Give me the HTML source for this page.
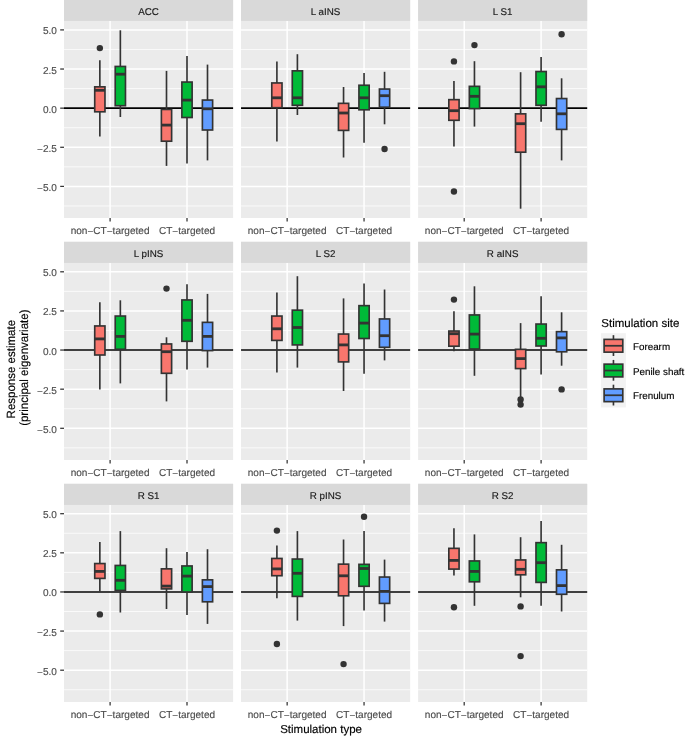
<!DOCTYPE html>
<html><head><meta charset="utf-8"><title>Boxplot facets</title>
<style>html,body{margin:0;padding:0;background:#fff;}body{width:685px;height:741px;overflow:hidden;}svg{display:block;font-family:"Liberation Sans", sans-serif;will-change:transform;text-rendering:geometricPrecision;}text{stroke-width:0.15px;paint-order:stroke;}</style>
</head><body>
<svg width="685" height="741" viewBox="0 0 685 741">
<rect x="0" y="0" width="685" height="741" fill="#ffffff"/>
<rect x="64" y="-0.2" width="169.1" height="218.2" fill="#EBEBEB"/>
<rect x="64" y="-0.2" width="169.1" height="21.1" fill="#D9D9D9"/>
<text x="148.55" y="14.9" font-size="9.8" fill="#1A1A1A" stroke="#1A1A1A" text-anchor="middle">ACC</text>
<g>
<line x1="64" x2="233.1" y1="205.96" y2="205.96" stroke="#fff" stroke-width="0.75"/>
<line x1="64" x2="233.1" y1="166.84" y2="166.84" stroke="#fff" stroke-width="0.75"/>
<line x1="64" x2="233.1" y1="127.71" y2="127.71" stroke="#fff" stroke-width="0.75"/>
<line x1="64" x2="233.1" y1="88.59" y2="88.59" stroke="#fff" stroke-width="0.75"/>
<line x1="64" x2="233.1" y1="49.46" y2="49.46" stroke="#fff" stroke-width="0.75"/>
<line x1="64" x2="233.1" y1="186.4" y2="186.4" stroke="#fff" stroke-width="1.45"/>
<line x1="64" x2="233.1" y1="147.28" y2="147.28" stroke="#fff" stroke-width="1.45"/>
<line x1="64" x2="233.1" y1="108.15" y2="108.15" stroke="#fff" stroke-width="1.45"/>
<line x1="64" x2="233.1" y1="69.03" y2="69.03" stroke="#fff" stroke-width="1.45"/>
<line x1="64" x2="233.1" y1="29.9" y2="29.9" stroke="#fff" stroke-width="1.45"/>
<line x1="110.1" x2="110.1" y1="20.9" y2="218" stroke="#fff" stroke-width="1.45"/>
<line x1="187" x2="187" y1="20.9" y2="218" stroke="#fff" stroke-width="1.45"/>
<line x1="64" x2="233.1" y1="108.15" y2="108.15" stroke="#000" stroke-width="1.6"/>
<line x1="99.85" x2="99.85" y1="60.2" y2="86.85" stroke="#333333" stroke-width="1.65"/>
<line x1="99.85" x2="99.85" y1="111.8" y2="136.6" stroke="#333333" stroke-width="1.65"/>
<rect x="94.72" y="86.85" width="10.25" height="24.95" fill="#F8766D" stroke="#333333" stroke-width="1.65"/>
<line x1="94.72" x2="104.97" y1="90.3" y2="90.3" stroke="#333333" stroke-width="2.8"/>
<circle cx="99.85" cy="48.1" r="3.2" fill="#333333"/>
<line x1="120.35" x2="120.35" y1="30.3" y2="66.45" stroke="#333333" stroke-width="1.65"/>
<line x1="120.35" x2="120.35" y1="105.7" y2="117" stroke="#333333" stroke-width="1.65"/>
<rect x="115.22" y="66.45" width="10.25" height="39.25" fill="#00BA38" stroke="#333333" stroke-width="1.65"/>
<line x1="115.22" x2="125.47" y1="74.2" y2="74.2" stroke="#333333" stroke-width="2.8"/>
<line x1="166.5" x2="166.5" y1="70.9" y2="109.45" stroke="#333333" stroke-width="1.65"/>
<line x1="166.5" x2="166.5" y1="141.2" y2="165.9" stroke="#333333" stroke-width="1.65"/>
<rect x="161.38" y="109.45" width="10.25" height="31.75" fill="#F8766D" stroke="#333333" stroke-width="1.65"/>
<line x1="161.38" x2="171.62" y1="125.1" y2="125.1" stroke="#333333" stroke-width="2.8"/>
<line x1="187" x2="187" y1="56.1" y2="82.05" stroke="#333333" stroke-width="1.65"/>
<line x1="187" x2="187" y1="117.5" y2="163.6" stroke="#333333" stroke-width="1.65"/>
<rect x="181.88" y="82.05" width="10.25" height="35.45" fill="#00BA38" stroke="#333333" stroke-width="1.65"/>
<line x1="181.88" x2="192.12" y1="100.1" y2="100.1" stroke="#333333" stroke-width="2.8"/>
<line x1="207.5" x2="207.5" y1="64.6" y2="100.05" stroke="#333333" stroke-width="1.65"/>
<line x1="207.5" x2="207.5" y1="130" y2="160.4" stroke="#333333" stroke-width="1.65"/>
<rect x="202.38" y="100.05" width="10.25" height="29.95" fill="#619CFF" stroke="#333333" stroke-width="1.65"/>
<line x1="202.38" x2="212.62" y1="108.8" y2="108.8" stroke="#333333" stroke-width="2.8"/>
</g>
<line x1="110.1" x2="110.1" y1="218" y2="221.6" stroke="#333333" stroke-width="1.25"/>
<text x="110.1" y="233.7" font-size="10.05" fill="#4D4D4D" stroke="#4D4D4D" text-anchor="middle">non<tspan dy="0.85">−</tspan><tspan dy="-0.85">CT</tspan><tspan dy="0.85">−</tspan><tspan dy="-0.85">targeted</tspan></text>
<line x1="187" x2="187" y1="218" y2="221.6" stroke="#333333" stroke-width="1.25"/>
<text x="187" y="233.7" font-size="10.05" fill="#4D4D4D" stroke="#4D4D4D" text-anchor="middle">CT<tspan dy="0.85">−</tspan><tspan dy="-0.85">targeted</tspan></text>
<line x1="60.2" x2="64" y1="29.9" y2="29.9" stroke="#333333" stroke-width="1.25"/>
<text x="56.9" y="34.4" font-size="10.05" fill="#4D4D4D" stroke="#4D4D4D" text-anchor="end">5.0</text>
<line x1="60.2" x2="64" y1="69.03" y2="69.03" stroke="#333333" stroke-width="1.25"/>
<text x="56.9" y="73.53" font-size="10.05" fill="#4D4D4D" stroke="#4D4D4D" text-anchor="end">2.5</text>
<line x1="60.2" x2="64" y1="108.15" y2="108.15" stroke="#333333" stroke-width="1.25"/>
<text x="56.9" y="112.65" font-size="10.05" fill="#4D4D4D" stroke="#4D4D4D" text-anchor="end">0.0</text>
<line x1="60.2" x2="64" y1="147.28" y2="147.28" stroke="#333333" stroke-width="1.25"/>
<text x="56.9" y="151.78" font-size="10.05" fill="#4D4D4D" stroke="#4D4D4D" text-anchor="end"><tspan dy="0.85">−</tspan><tspan dy="-0.85">2.5</tspan></text>
<line x1="60.2" x2="64" y1="186.4" y2="186.4" stroke="#333333" stroke-width="1.25"/>
<text x="56.9" y="190.9" font-size="10.05" fill="#4D4D4D" stroke="#4D4D4D" text-anchor="end"><tspan dy="0.85">−</tspan><tspan dy="-0.85">5.0</tspan></text>
<rect x="241.05" y="-0.2" width="169.1" height="218.2" fill="#EBEBEB"/>
<rect x="241.05" y="-0.2" width="169.1" height="21.1" fill="#D9D9D9"/>
<text x="325.6" y="14.9" font-size="9.8" fill="#1A1A1A" stroke="#1A1A1A" text-anchor="middle">L aINS</text>
<g>
<line x1="241.05" x2="410.15" y1="205.96" y2="205.96" stroke="#fff" stroke-width="0.75"/>
<line x1="241.05" x2="410.15" y1="166.84" y2="166.84" stroke="#fff" stroke-width="0.75"/>
<line x1="241.05" x2="410.15" y1="127.71" y2="127.71" stroke="#fff" stroke-width="0.75"/>
<line x1="241.05" x2="410.15" y1="88.59" y2="88.59" stroke="#fff" stroke-width="0.75"/>
<line x1="241.05" x2="410.15" y1="49.46" y2="49.46" stroke="#fff" stroke-width="0.75"/>
<line x1="241.05" x2="410.15" y1="186.4" y2="186.4" stroke="#fff" stroke-width="1.45"/>
<line x1="241.05" x2="410.15" y1="147.28" y2="147.28" stroke="#fff" stroke-width="1.45"/>
<line x1="241.05" x2="410.15" y1="108.15" y2="108.15" stroke="#fff" stroke-width="1.45"/>
<line x1="241.05" x2="410.15" y1="69.03" y2="69.03" stroke="#fff" stroke-width="1.45"/>
<line x1="241.05" x2="410.15" y1="29.9" y2="29.9" stroke="#fff" stroke-width="1.45"/>
<line x1="287.15" x2="287.15" y1="20.9" y2="218" stroke="#fff" stroke-width="1.45"/>
<line x1="364.05" x2="364.05" y1="20.9" y2="218" stroke="#fff" stroke-width="1.45"/>
<line x1="241.05" x2="410.15" y1="108.15" y2="108.15" stroke="#000" stroke-width="1.6"/>
<line x1="276.9" x2="276.9" y1="61.4" y2="82.95" stroke="#333333" stroke-width="1.65"/>
<line x1="276.9" x2="276.9" y1="107.7" y2="141.4" stroke="#333333" stroke-width="1.65"/>
<rect x="271.77" y="82.95" width="10.25" height="24.75" fill="#F8766D" stroke="#333333" stroke-width="1.65"/>
<line x1="271.77" x2="282.02" y1="97.8" y2="97.8" stroke="#333333" stroke-width="2.8"/>
<line x1="297.4" x2="297.4" y1="54.2" y2="70.85" stroke="#333333" stroke-width="1.65"/>
<line x1="297.4" x2="297.4" y1="105.3" y2="115" stroke="#333333" stroke-width="1.65"/>
<rect x="292.27" y="70.85" width="10.25" height="34.45" fill="#00BA38" stroke="#333333" stroke-width="1.65"/>
<line x1="292.27" x2="302.52" y1="97.8" y2="97.8" stroke="#333333" stroke-width="2.8"/>
<line x1="343.55" x2="343.55" y1="87" y2="103.35" stroke="#333333" stroke-width="1.65"/>
<line x1="343.55" x2="343.55" y1="130.4" y2="157.5" stroke="#333333" stroke-width="1.65"/>
<rect x="338.43" y="103.35" width="10.25" height="27.05" fill="#F8766D" stroke="#333333" stroke-width="1.65"/>
<line x1="338.43" x2="348.68" y1="113" y2="113" stroke="#333333" stroke-width="2.8"/>
<line x1="364.05" x2="364.05" y1="73.1" y2="85.25" stroke="#333333" stroke-width="1.65"/>
<line x1="364.05" x2="364.05" y1="109.8" y2="142.7" stroke="#333333" stroke-width="1.65"/>
<rect x="358.93" y="85.25" width="10.25" height="24.55" fill="#00BA38" stroke="#333333" stroke-width="1.65"/>
<line x1="358.93" x2="369.18" y1="97.8" y2="97.8" stroke="#333333" stroke-width="2.8"/>
<line x1="384.55" x2="384.55" y1="71.8" y2="89.05" stroke="#333333" stroke-width="1.65"/>
<line x1="384.55" x2="384.55" y1="107.2" y2="124.3" stroke="#333333" stroke-width="1.65"/>
<rect x="379.43" y="89.05" width="10.25" height="18.15" fill="#619CFF" stroke="#333333" stroke-width="1.65"/>
<line x1="379.43" x2="389.68" y1="95.7" y2="95.7" stroke="#333333" stroke-width="2.8"/>
<circle cx="384.55" cy="149" r="3.2" fill="#333333"/>
</g>
<line x1="287.15" x2="287.15" y1="218" y2="221.6" stroke="#333333" stroke-width="1.25"/>
<text x="287.15" y="233.7" font-size="10.05" fill="#4D4D4D" stroke="#4D4D4D" text-anchor="middle">non<tspan dy="0.85">−</tspan><tspan dy="-0.85">CT</tspan><tspan dy="0.85">−</tspan><tspan dy="-0.85">targeted</tspan></text>
<line x1="364.05" x2="364.05" y1="218" y2="221.6" stroke="#333333" stroke-width="1.25"/>
<text x="364.05" y="233.7" font-size="10.05" fill="#4D4D4D" stroke="#4D4D4D" text-anchor="middle">CT<tspan dy="0.85">−</tspan><tspan dy="-0.85">targeted</tspan></text>
<rect x="418.1" y="-0.2" width="169.1" height="218.2" fill="#EBEBEB"/>
<rect x="418.1" y="-0.2" width="169.1" height="21.1" fill="#D9D9D9"/>
<text x="502.65" y="14.9" font-size="9.8" fill="#1A1A1A" stroke="#1A1A1A" text-anchor="middle">L S1</text>
<g>
<line x1="418.1" x2="587.2" y1="205.96" y2="205.96" stroke="#fff" stroke-width="0.75"/>
<line x1="418.1" x2="587.2" y1="166.84" y2="166.84" stroke="#fff" stroke-width="0.75"/>
<line x1="418.1" x2="587.2" y1="127.71" y2="127.71" stroke="#fff" stroke-width="0.75"/>
<line x1="418.1" x2="587.2" y1="88.59" y2="88.59" stroke="#fff" stroke-width="0.75"/>
<line x1="418.1" x2="587.2" y1="49.46" y2="49.46" stroke="#fff" stroke-width="0.75"/>
<line x1="418.1" x2="587.2" y1="186.4" y2="186.4" stroke="#fff" stroke-width="1.45"/>
<line x1="418.1" x2="587.2" y1="147.28" y2="147.28" stroke="#fff" stroke-width="1.45"/>
<line x1="418.1" x2="587.2" y1="108.15" y2="108.15" stroke="#fff" stroke-width="1.45"/>
<line x1="418.1" x2="587.2" y1="69.03" y2="69.03" stroke="#fff" stroke-width="1.45"/>
<line x1="418.1" x2="587.2" y1="29.9" y2="29.9" stroke="#fff" stroke-width="1.45"/>
<line x1="464.2" x2="464.2" y1="20.9" y2="218" stroke="#fff" stroke-width="1.45"/>
<line x1="541.1" x2="541.1" y1="20.9" y2="218" stroke="#fff" stroke-width="1.45"/>
<line x1="418.1" x2="587.2" y1="108.15" y2="108.15" stroke="#000" stroke-width="1.6"/>
<line x1="453.95" x2="453.95" y1="81.1" y2="99.65" stroke="#333333" stroke-width="1.65"/>
<line x1="453.95" x2="453.95" y1="120.3" y2="146.5" stroke="#333333" stroke-width="1.65"/>
<rect x="448.83" y="99.65" width="10.25" height="20.65" fill="#F8766D" stroke="#333333" stroke-width="1.65"/>
<line x1="448.83" x2="459.08" y1="110.7" y2="110.7" stroke="#333333" stroke-width="2.8"/>
<circle cx="453.95" cy="61.4" r="3.2" fill="#333333"/>
<circle cx="453.95" cy="191.5" r="3.2" fill="#333333"/>
<line x1="474.45" x2="474.45" y1="61.2" y2="86.35" stroke="#333333" stroke-width="1.65"/>
<line x1="474.45" x2="474.45" y1="108.6" y2="126.6" stroke="#333333" stroke-width="1.65"/>
<rect x="469.33" y="86.35" width="10.25" height="22.25" fill="#00BA38" stroke="#333333" stroke-width="1.65"/>
<line x1="469.33" x2="479.58" y1="96.3" y2="96.3" stroke="#333333" stroke-width="2.8"/>
<circle cx="474.45" cy="45.1" r="3.2" fill="#333333"/>
<line x1="520.6" x2="520.6" y1="72.2" y2="113.85" stroke="#333333" stroke-width="1.65"/>
<line x1="520.6" x2="520.6" y1="152.2" y2="208.7" stroke="#333333" stroke-width="1.65"/>
<rect x="515.48" y="113.85" width="10.25" height="38.35" fill="#F8766D" stroke="#333333" stroke-width="1.65"/>
<line x1="515.48" x2="525.73" y1="123.7" y2="123.7" stroke="#333333" stroke-width="2.8"/>
<line x1="541.1" x2="541.1" y1="57" y2="71.55" stroke="#333333" stroke-width="1.65"/>
<line x1="541.1" x2="541.1" y1="105.3" y2="121.8" stroke="#333333" stroke-width="1.65"/>
<rect x="535.98" y="71.55" width="10.25" height="33.75" fill="#00BA38" stroke="#333333" stroke-width="1.65"/>
<line x1="535.98" x2="546.23" y1="86.8" y2="86.8" stroke="#333333" stroke-width="2.8"/>
<line x1="561.6" x2="561.6" y1="78.3" y2="98.55" stroke="#333333" stroke-width="1.65"/>
<line x1="561.6" x2="561.6" y1="129.4" y2="160.4" stroke="#333333" stroke-width="1.65"/>
<rect x="556.48" y="98.55" width="10.25" height="30.85" fill="#619CFF" stroke="#333333" stroke-width="1.65"/>
<line x1="556.48" x2="566.73" y1="113.8" y2="113.8" stroke="#333333" stroke-width="2.8"/>
<circle cx="561.6" cy="34.2" r="3.2" fill="#333333"/>
</g>
<line x1="464.2" x2="464.2" y1="218" y2="221.6" stroke="#333333" stroke-width="1.25"/>
<text x="464.2" y="233.7" font-size="10.05" fill="#4D4D4D" stroke="#4D4D4D" text-anchor="middle">non<tspan dy="0.85">−</tspan><tspan dy="-0.85">CT</tspan><tspan dy="0.85">−</tspan><tspan dy="-0.85">targeted</tspan></text>
<line x1="541.1" x2="541.1" y1="218" y2="221.6" stroke="#333333" stroke-width="1.25"/>
<text x="541.1" y="233.7" font-size="10.05" fill="#4D4D4D" stroke="#4D4D4D" text-anchor="middle">CT<tspan dy="0.85">−</tspan><tspan dy="-0.85">targeted</tspan></text>
<rect x="64" y="241.8" width="169.1" height="218.2" fill="#EBEBEB"/>
<rect x="64" y="241.8" width="169.1" height="21.1" fill="#D9D9D9"/>
<text x="148.55" y="256.9" font-size="9.8" fill="#1A1A1A" stroke="#1A1A1A" text-anchor="middle">L pINS</text>
<g>
<line x1="64" x2="233.1" y1="447.86" y2="447.86" stroke="#fff" stroke-width="0.75"/>
<line x1="64" x2="233.1" y1="408.74" y2="408.74" stroke="#fff" stroke-width="0.75"/>
<line x1="64" x2="233.1" y1="369.61" y2="369.61" stroke="#fff" stroke-width="0.75"/>
<line x1="64" x2="233.1" y1="330.49" y2="330.49" stroke="#fff" stroke-width="0.75"/>
<line x1="64" x2="233.1" y1="291.36" y2="291.36" stroke="#fff" stroke-width="0.75"/>
<line x1="64" x2="233.1" y1="428.3" y2="428.3" stroke="#fff" stroke-width="1.45"/>
<line x1="64" x2="233.1" y1="389.18" y2="389.18" stroke="#fff" stroke-width="1.45"/>
<line x1="64" x2="233.1" y1="350.05" y2="350.05" stroke="#fff" stroke-width="1.45"/>
<line x1="64" x2="233.1" y1="310.93" y2="310.93" stroke="#fff" stroke-width="1.45"/>
<line x1="64" x2="233.1" y1="271.8" y2="271.8" stroke="#fff" stroke-width="1.45"/>
<line x1="110.1" x2="110.1" y1="262.9" y2="460" stroke="#fff" stroke-width="1.45"/>
<line x1="187" x2="187" y1="262.9" y2="460" stroke="#fff" stroke-width="1.45"/>
<line x1="64" x2="233.1" y1="350.05" y2="350.05" stroke="#000" stroke-width="1.6"/>
<line x1="99.85" x2="99.85" y1="302.2" y2="325.95" stroke="#333333" stroke-width="1.65"/>
<line x1="99.85" x2="99.85" y1="355" y2="389.4" stroke="#333333" stroke-width="1.65"/>
<rect x="94.72" y="325.95" width="10.25" height="29.05" fill="#F8766D" stroke="#333333" stroke-width="1.65"/>
<line x1="94.72" x2="104.97" y1="338.9" y2="338.9" stroke="#333333" stroke-width="2.8"/>
<line x1="120.35" x2="120.35" y1="300.3" y2="316.05" stroke="#333333" stroke-width="1.65"/>
<line x1="120.35" x2="120.35" y1="349.3" y2="383.4" stroke="#333333" stroke-width="1.65"/>
<rect x="115.22" y="316.05" width="10.25" height="33.25" fill="#00BA38" stroke="#333333" stroke-width="1.65"/>
<line x1="115.22" x2="125.47" y1="336.4" y2="336.4" stroke="#333333" stroke-width="2.8"/>
<line x1="166.5" x2="166.5" y1="337.3" y2="343.95" stroke="#333333" stroke-width="1.65"/>
<line x1="166.5" x2="166.5" y1="373.3" y2="401.4" stroke="#333333" stroke-width="1.65"/>
<rect x="161.38" y="343.95" width="10.25" height="29.35" fill="#F8766D" stroke="#333333" stroke-width="1.65"/>
<line x1="161.38" x2="171.62" y1="351.7" y2="351.7" stroke="#333333" stroke-width="2.8"/>
<circle cx="166.5" cy="288.6" r="3.2" fill="#333333"/>
<line x1="187" x2="187" y1="284.2" y2="299.95" stroke="#333333" stroke-width="1.65"/>
<line x1="187" x2="187" y1="341.3" y2="369.5" stroke="#333333" stroke-width="1.65"/>
<rect x="181.88" y="299.95" width="10.25" height="41.35" fill="#00BA38" stroke="#333333" stroke-width="1.65"/>
<line x1="181.88" x2="192.12" y1="320.3" y2="320.3" stroke="#333333" stroke-width="2.8"/>
<line x1="207.5" x2="207.5" y1="293.9" y2="322.35" stroke="#333333" stroke-width="1.65"/>
<line x1="207.5" x2="207.5" y1="350.6" y2="367.6" stroke="#333333" stroke-width="1.65"/>
<rect x="202.38" y="322.35" width="10.25" height="28.25" fill="#619CFF" stroke="#333333" stroke-width="1.65"/>
<line x1="202.38" x2="212.62" y1="336.4" y2="336.4" stroke="#333333" stroke-width="2.8"/>
</g>
<line x1="110.1" x2="110.1" y1="460" y2="463.6" stroke="#333333" stroke-width="1.25"/>
<text x="110.1" y="475.7" font-size="10.05" fill="#4D4D4D" stroke="#4D4D4D" text-anchor="middle">non<tspan dy="0.85">−</tspan><tspan dy="-0.85">CT</tspan><tspan dy="0.85">−</tspan><tspan dy="-0.85">targeted</tspan></text>
<line x1="187" x2="187" y1="460" y2="463.6" stroke="#333333" stroke-width="1.25"/>
<text x="187" y="475.7" font-size="10.05" fill="#4D4D4D" stroke="#4D4D4D" text-anchor="middle">CT<tspan dy="0.85">−</tspan><tspan dy="-0.85">targeted</tspan></text>
<line x1="60.2" x2="64" y1="271.8" y2="271.8" stroke="#333333" stroke-width="1.25"/>
<text x="56.9" y="276.3" font-size="10.05" fill="#4D4D4D" stroke="#4D4D4D" text-anchor="end">5.0</text>
<line x1="60.2" x2="64" y1="310.93" y2="310.93" stroke="#333333" stroke-width="1.25"/>
<text x="56.9" y="315.43" font-size="10.05" fill="#4D4D4D" stroke="#4D4D4D" text-anchor="end">2.5</text>
<line x1="60.2" x2="64" y1="350.05" y2="350.05" stroke="#333333" stroke-width="1.25"/>
<text x="56.9" y="354.55" font-size="10.05" fill="#4D4D4D" stroke="#4D4D4D" text-anchor="end">0.0</text>
<line x1="60.2" x2="64" y1="389.18" y2="389.18" stroke="#333333" stroke-width="1.25"/>
<text x="56.9" y="393.68" font-size="10.05" fill="#4D4D4D" stroke="#4D4D4D" text-anchor="end"><tspan dy="0.85">−</tspan><tspan dy="-0.85">2.5</tspan></text>
<line x1="60.2" x2="64" y1="428.3" y2="428.3" stroke="#333333" stroke-width="1.25"/>
<text x="56.9" y="432.8" font-size="10.05" fill="#4D4D4D" stroke="#4D4D4D" text-anchor="end"><tspan dy="0.85">−</tspan><tspan dy="-0.85">5.0</tspan></text>
<rect x="241.05" y="241.8" width="169.1" height="218.2" fill="#EBEBEB"/>
<rect x="241.05" y="241.8" width="169.1" height="21.1" fill="#D9D9D9"/>
<text x="325.6" y="256.9" font-size="9.8" fill="#1A1A1A" stroke="#1A1A1A" text-anchor="middle">L S2</text>
<g>
<line x1="241.05" x2="410.15" y1="447.86" y2="447.86" stroke="#fff" stroke-width="0.75"/>
<line x1="241.05" x2="410.15" y1="408.74" y2="408.74" stroke="#fff" stroke-width="0.75"/>
<line x1="241.05" x2="410.15" y1="369.61" y2="369.61" stroke="#fff" stroke-width="0.75"/>
<line x1="241.05" x2="410.15" y1="330.49" y2="330.49" stroke="#fff" stroke-width="0.75"/>
<line x1="241.05" x2="410.15" y1="291.36" y2="291.36" stroke="#fff" stroke-width="0.75"/>
<line x1="241.05" x2="410.15" y1="428.3" y2="428.3" stroke="#fff" stroke-width="1.45"/>
<line x1="241.05" x2="410.15" y1="389.18" y2="389.18" stroke="#fff" stroke-width="1.45"/>
<line x1="241.05" x2="410.15" y1="350.05" y2="350.05" stroke="#fff" stroke-width="1.45"/>
<line x1="241.05" x2="410.15" y1="310.93" y2="310.93" stroke="#fff" stroke-width="1.45"/>
<line x1="241.05" x2="410.15" y1="271.8" y2="271.8" stroke="#fff" stroke-width="1.45"/>
<line x1="287.15" x2="287.15" y1="262.9" y2="460" stroke="#fff" stroke-width="1.45"/>
<line x1="364.05" x2="364.05" y1="262.9" y2="460" stroke="#fff" stroke-width="1.45"/>
<line x1="241.05" x2="410.15" y1="350.05" y2="350.05" stroke="#000" stroke-width="1.6"/>
<line x1="276.9" x2="276.9" y1="292.4" y2="316.05" stroke="#333333" stroke-width="1.65"/>
<line x1="276.9" x2="276.9" y1="340.4" y2="372.4" stroke="#333333" stroke-width="1.65"/>
<rect x="271.77" y="316.05" width="10.25" height="24.35" fill="#F8766D" stroke="#333333" stroke-width="1.65"/>
<line x1="271.77" x2="282.02" y1="328.8" y2="328.8" stroke="#333333" stroke-width="2.8"/>
<line x1="297.4" x2="297.4" y1="276.2" y2="310.15" stroke="#333333" stroke-width="1.65"/>
<line x1="297.4" x2="297.4" y1="344.9" y2="367.6" stroke="#333333" stroke-width="1.65"/>
<rect x="292.27" y="310.15" width="10.25" height="34.75" fill="#00BA38" stroke="#333333" stroke-width="1.65"/>
<line x1="292.27" x2="302.52" y1="327.5" y2="327.5" stroke="#333333" stroke-width="2.8"/>
<line x1="343.55" x2="343.55" y1="298.4" y2="334.05" stroke="#333333" stroke-width="1.65"/>
<line x1="343.55" x2="343.55" y1="361.9" y2="391" stroke="#333333" stroke-width="1.65"/>
<rect x="338.43" y="334.05" width="10.25" height="27.85" fill="#F8766D" stroke="#333333" stroke-width="1.65"/>
<line x1="338.43" x2="348.68" y1="344.9" y2="344.9" stroke="#333333" stroke-width="2.8"/>
<line x1="364.05" x2="364.05" y1="283.4" y2="305.65" stroke="#333333" stroke-width="1.65"/>
<line x1="364.05" x2="364.05" y1="338.5" y2="373.7" stroke="#333333" stroke-width="1.65"/>
<rect x="358.93" y="305.65" width="10.25" height="32.85" fill="#00BA38" stroke="#333333" stroke-width="1.65"/>
<line x1="358.93" x2="369.18" y1="323.1" y2="323.1" stroke="#333333" stroke-width="2.8"/>
<line x1="384.55" x2="384.55" y1="289.5" y2="318.95" stroke="#333333" stroke-width="1.65"/>
<line x1="384.55" x2="384.55" y1="347.3" y2="360.4" stroke="#333333" stroke-width="1.65"/>
<rect x="379.43" y="318.95" width="10.25" height="28.35" fill="#619CFF" stroke="#333333" stroke-width="1.65"/>
<line x1="379.43" x2="389.68" y1="335.7" y2="335.7" stroke="#333333" stroke-width="2.8"/>
</g>
<line x1="287.15" x2="287.15" y1="460" y2="463.6" stroke="#333333" stroke-width="1.25"/>
<text x="287.15" y="475.7" font-size="10.05" fill="#4D4D4D" stroke="#4D4D4D" text-anchor="middle">non<tspan dy="0.85">−</tspan><tspan dy="-0.85">CT</tspan><tspan dy="0.85">−</tspan><tspan dy="-0.85">targeted</tspan></text>
<line x1="364.05" x2="364.05" y1="460" y2="463.6" stroke="#333333" stroke-width="1.25"/>
<text x="364.05" y="475.7" font-size="10.05" fill="#4D4D4D" stroke="#4D4D4D" text-anchor="middle">CT<tspan dy="0.85">−</tspan><tspan dy="-0.85">targeted</tspan></text>
<rect x="418.1" y="241.8" width="169.1" height="218.2" fill="#EBEBEB"/>
<rect x="418.1" y="241.8" width="169.1" height="21.1" fill="#D9D9D9"/>
<text x="502.65" y="256.9" font-size="9.8" fill="#1A1A1A" stroke="#1A1A1A" text-anchor="middle">R aINS</text>
<g>
<line x1="418.1" x2="587.2" y1="447.86" y2="447.86" stroke="#fff" stroke-width="0.75"/>
<line x1="418.1" x2="587.2" y1="408.74" y2="408.74" stroke="#fff" stroke-width="0.75"/>
<line x1="418.1" x2="587.2" y1="369.61" y2="369.61" stroke="#fff" stroke-width="0.75"/>
<line x1="418.1" x2="587.2" y1="330.49" y2="330.49" stroke="#fff" stroke-width="0.75"/>
<line x1="418.1" x2="587.2" y1="291.36" y2="291.36" stroke="#fff" stroke-width="0.75"/>
<line x1="418.1" x2="587.2" y1="428.3" y2="428.3" stroke="#fff" stroke-width="1.45"/>
<line x1="418.1" x2="587.2" y1="389.18" y2="389.18" stroke="#fff" stroke-width="1.45"/>
<line x1="418.1" x2="587.2" y1="350.05" y2="350.05" stroke="#fff" stroke-width="1.45"/>
<line x1="418.1" x2="587.2" y1="310.93" y2="310.93" stroke="#fff" stroke-width="1.45"/>
<line x1="418.1" x2="587.2" y1="271.8" y2="271.8" stroke="#fff" stroke-width="1.45"/>
<line x1="464.2" x2="464.2" y1="262.9" y2="460" stroke="#fff" stroke-width="1.45"/>
<line x1="541.1" x2="541.1" y1="262.9" y2="460" stroke="#fff" stroke-width="1.45"/>
<line x1="418.1" x2="587.2" y1="350.05" y2="350.05" stroke="#000" stroke-width="1.6"/>
<line x1="453.95" x2="453.95" y1="311.3" y2="331.05" stroke="#333333" stroke-width="1.65"/>
<line x1="453.95" x2="453.95" y1="346.2" y2="351.3" stroke="#333333" stroke-width="1.65"/>
<rect x="448.83" y="331.05" width="10.25" height="15.15" fill="#F8766D" stroke="#333333" stroke-width="1.65"/>
<line x1="448.83" x2="459.08" y1="333.7" y2="333.7" stroke="#333333" stroke-width="2.8"/>
<circle cx="453.95" cy="299.6" r="3.2" fill="#333333"/>
<line x1="474.45" x2="474.45" y1="286.3" y2="314.95" stroke="#333333" stroke-width="1.65"/>
<line x1="474.45" x2="474.45" y1="349" y2="375.8" stroke="#333333" stroke-width="1.65"/>
<rect x="469.33" y="314.95" width="10.25" height="34.05" fill="#00BA38" stroke="#333333" stroke-width="1.65"/>
<line x1="469.33" x2="479.58" y1="334.1" y2="334.1" stroke="#333333" stroke-width="2.8"/>
<line x1="520.6" x2="520.6" y1="323.1" y2="349.35" stroke="#333333" stroke-width="1.65"/>
<line x1="520.6" x2="520.6" y1="368.6" y2="397" stroke="#333333" stroke-width="1.65"/>
<rect x="515.48" y="349.35" width="10.25" height="19.25" fill="#F8766D" stroke="#333333" stroke-width="1.65"/>
<line x1="515.48" x2="525.73" y1="358.6" y2="358.6" stroke="#333333" stroke-width="2.8"/>
<circle cx="520.6" cy="399.5" r="3.2" fill="#333333"/>
<circle cx="520.6" cy="404.6" r="3.2" fill="#333333"/>
<line x1="541.1" x2="541.1" y1="296.2" y2="324.05" stroke="#333333" stroke-width="1.65"/>
<line x1="541.1" x2="541.1" y1="346" y2="374.6" stroke="#333333" stroke-width="1.65"/>
<rect x="535.98" y="324.05" width="10.25" height="21.95" fill="#00BA38" stroke="#333333" stroke-width="1.65"/>
<line x1="535.98" x2="546.23" y1="338.3" y2="338.3" stroke="#333333" stroke-width="2.8"/>
<line x1="561.6" x2="561.6" y1="312.3" y2="331.65" stroke="#333333" stroke-width="1.65"/>
<line x1="561.6" x2="561.6" y1="351.8" y2="365.7" stroke="#333333" stroke-width="1.65"/>
<rect x="556.48" y="331.65" width="10.25" height="20.15" fill="#619CFF" stroke="#333333" stroke-width="1.65"/>
<line x1="556.48" x2="566.73" y1="337.9" y2="337.9" stroke="#333333" stroke-width="2.8"/>
<circle cx="561.6" cy="389.4" r="3.2" fill="#333333"/>
</g>
<line x1="464.2" x2="464.2" y1="460" y2="463.6" stroke="#333333" stroke-width="1.25"/>
<text x="464.2" y="475.7" font-size="10.05" fill="#4D4D4D" stroke="#4D4D4D" text-anchor="middle">non<tspan dy="0.85">−</tspan><tspan dy="-0.85">CT</tspan><tspan dy="0.85">−</tspan><tspan dy="-0.85">targeted</tspan></text>
<line x1="541.1" x2="541.1" y1="460" y2="463.6" stroke="#333333" stroke-width="1.25"/>
<text x="541.1" y="475.7" font-size="10.05" fill="#4D4D4D" stroke="#4D4D4D" text-anchor="middle">CT<tspan dy="0.85">−</tspan><tspan dy="-0.85">targeted</tspan></text>
<rect x="64" y="483.8" width="169.1" height="218.2" fill="#EBEBEB"/>
<rect x="64" y="483.8" width="169.1" height="21.1" fill="#D9D9D9"/>
<text x="148.55" y="498.9" font-size="9.8" fill="#1A1A1A" stroke="#1A1A1A" text-anchor="middle">R S1</text>
<g>
<line x1="64" x2="233.1" y1="689.76" y2="689.76" stroke="#fff" stroke-width="0.75"/>
<line x1="64" x2="233.1" y1="650.64" y2="650.64" stroke="#fff" stroke-width="0.75"/>
<line x1="64" x2="233.1" y1="611.51" y2="611.51" stroke="#fff" stroke-width="0.75"/>
<line x1="64" x2="233.1" y1="572.39" y2="572.39" stroke="#fff" stroke-width="0.75"/>
<line x1="64" x2="233.1" y1="533.26" y2="533.26" stroke="#fff" stroke-width="0.75"/>
<line x1="64" x2="233.1" y1="670.2" y2="670.2" stroke="#fff" stroke-width="1.45"/>
<line x1="64" x2="233.1" y1="631.08" y2="631.08" stroke="#fff" stroke-width="1.45"/>
<line x1="64" x2="233.1" y1="591.95" y2="591.95" stroke="#fff" stroke-width="1.45"/>
<line x1="64" x2="233.1" y1="552.83" y2="552.83" stroke="#fff" stroke-width="1.45"/>
<line x1="64" x2="233.1" y1="513.7" y2="513.7" stroke="#fff" stroke-width="1.45"/>
<line x1="110.1" x2="110.1" y1="504.9" y2="702" stroke="#fff" stroke-width="1.45"/>
<line x1="187" x2="187" y1="504.9" y2="702" stroke="#fff" stroke-width="1.45"/>
<line x1="64" x2="233.1" y1="591.95" y2="591.95" stroke="#000" stroke-width="1.6"/>
<line x1="99.85" x2="99.85" y1="542" y2="563.55" stroke="#333333" stroke-width="1.65"/>
<line x1="99.85" x2="99.85" y1="578.4" y2="591.6" stroke="#333333" stroke-width="1.65"/>
<rect x="94.72" y="563.55" width="10.25" height="14.85" fill="#F8766D" stroke="#333333" stroke-width="1.65"/>
<line x1="94.72" x2="104.97" y1="571.4" y2="571.4" stroke="#333333" stroke-width="2.8"/>
<circle cx="99.85" cy="614.4" r="3.2" fill="#333333"/>
<line x1="120.35" x2="120.35" y1="531.1" y2="565.45" stroke="#333333" stroke-width="1.65"/>
<line x1="120.35" x2="120.35" y1="590.4" y2="612.5" stroke="#333333" stroke-width="1.65"/>
<rect x="115.22" y="565.45" width="10.25" height="24.95" fill="#00BA38" stroke="#333333" stroke-width="1.65"/>
<line x1="115.22" x2="125.47" y1="580.3" y2="580.3" stroke="#333333" stroke-width="2.8"/>
<line x1="166.5" x2="166.5" y1="548.2" y2="568.85" stroke="#333333" stroke-width="1.65"/>
<line x1="166.5" x2="166.5" y1="588.9" y2="609" stroke="#333333" stroke-width="1.65"/>
<rect x="161.38" y="568.85" width="10.25" height="20.05" fill="#F8766D" stroke="#333333" stroke-width="1.65"/>
<line x1="161.38" x2="171.62" y1="586.1" y2="586.1" stroke="#333333" stroke-width="2.8"/>
<line x1="187" x2="187" y1="552" y2="565.95" stroke="#333333" stroke-width="1.65"/>
<line x1="187" x2="187" y1="592" y2="614.9" stroke="#333333" stroke-width="1.65"/>
<rect x="181.88" y="565.95" width="10.25" height="26.05" fill="#00BA38" stroke="#333333" stroke-width="1.65"/>
<line x1="181.88" x2="192.12" y1="576.1" y2="576.1" stroke="#333333" stroke-width="2.8"/>
<line x1="207.5" x2="207.5" y1="549.2" y2="579.85" stroke="#333333" stroke-width="1.65"/>
<line x1="207.5" x2="207.5" y1="601.8" y2="623.9" stroke="#333333" stroke-width="1.65"/>
<rect x="202.38" y="579.85" width="10.25" height="21.95" fill="#619CFF" stroke="#333333" stroke-width="1.65"/>
<line x1="202.38" x2="212.62" y1="586.6" y2="586.6" stroke="#333333" stroke-width="2.8"/>
</g>
<line x1="110.1" x2="110.1" y1="702" y2="705.6" stroke="#333333" stroke-width="1.25"/>
<text x="110.1" y="717.7" font-size="10.05" fill="#4D4D4D" stroke="#4D4D4D" text-anchor="middle">non<tspan dy="0.85">−</tspan><tspan dy="-0.85">CT</tspan><tspan dy="0.85">−</tspan><tspan dy="-0.85">targeted</tspan></text>
<line x1="187" x2="187" y1="702" y2="705.6" stroke="#333333" stroke-width="1.25"/>
<text x="187" y="717.7" font-size="10.05" fill="#4D4D4D" stroke="#4D4D4D" text-anchor="middle">CT<tspan dy="0.85">−</tspan><tspan dy="-0.85">targeted</tspan></text>
<line x1="60.2" x2="64" y1="513.7" y2="513.7" stroke="#333333" stroke-width="1.25"/>
<text x="56.9" y="518.2" font-size="10.05" fill="#4D4D4D" stroke="#4D4D4D" text-anchor="end">5.0</text>
<line x1="60.2" x2="64" y1="552.83" y2="552.83" stroke="#333333" stroke-width="1.25"/>
<text x="56.9" y="557.33" font-size="10.05" fill="#4D4D4D" stroke="#4D4D4D" text-anchor="end">2.5</text>
<line x1="60.2" x2="64" y1="591.95" y2="591.95" stroke="#333333" stroke-width="1.25"/>
<text x="56.9" y="596.45" font-size="10.05" fill="#4D4D4D" stroke="#4D4D4D" text-anchor="end">0.0</text>
<line x1="60.2" x2="64" y1="631.08" y2="631.08" stroke="#333333" stroke-width="1.25"/>
<text x="56.9" y="635.58" font-size="10.05" fill="#4D4D4D" stroke="#4D4D4D" text-anchor="end"><tspan dy="0.85">−</tspan><tspan dy="-0.85">2.5</tspan></text>
<line x1="60.2" x2="64" y1="670.2" y2="670.2" stroke="#333333" stroke-width="1.25"/>
<text x="56.9" y="674.7" font-size="10.05" fill="#4D4D4D" stroke="#4D4D4D" text-anchor="end"><tspan dy="0.85">−</tspan><tspan dy="-0.85">5.0</tspan></text>
<rect x="241.05" y="483.8" width="169.1" height="218.2" fill="#EBEBEB"/>
<rect x="241.05" y="483.8" width="169.1" height="21.1" fill="#D9D9D9"/>
<text x="325.6" y="498.9" font-size="9.8" fill="#1A1A1A" stroke="#1A1A1A" text-anchor="middle">R pINS</text>
<g>
<line x1="241.05" x2="410.15" y1="689.76" y2="689.76" stroke="#fff" stroke-width="0.75"/>
<line x1="241.05" x2="410.15" y1="650.64" y2="650.64" stroke="#fff" stroke-width="0.75"/>
<line x1="241.05" x2="410.15" y1="611.51" y2="611.51" stroke="#fff" stroke-width="0.75"/>
<line x1="241.05" x2="410.15" y1="572.39" y2="572.39" stroke="#fff" stroke-width="0.75"/>
<line x1="241.05" x2="410.15" y1="533.26" y2="533.26" stroke="#fff" stroke-width="0.75"/>
<line x1="241.05" x2="410.15" y1="670.2" y2="670.2" stroke="#fff" stroke-width="1.45"/>
<line x1="241.05" x2="410.15" y1="631.08" y2="631.08" stroke="#fff" stroke-width="1.45"/>
<line x1="241.05" x2="410.15" y1="591.95" y2="591.95" stroke="#fff" stroke-width="1.45"/>
<line x1="241.05" x2="410.15" y1="552.83" y2="552.83" stroke="#fff" stroke-width="1.45"/>
<line x1="241.05" x2="410.15" y1="513.7" y2="513.7" stroke="#fff" stroke-width="1.45"/>
<line x1="287.15" x2="287.15" y1="504.9" y2="702" stroke="#fff" stroke-width="1.45"/>
<line x1="364.05" x2="364.05" y1="504.9" y2="702" stroke="#fff" stroke-width="1.45"/>
<line x1="241.05" x2="410.15" y1="591.95" y2="591.95" stroke="#000" stroke-width="1.6"/>
<line x1="276.9" x2="276.9" y1="545.4" y2="558.45" stroke="#333333" stroke-width="1.65"/>
<line x1="276.9" x2="276.9" y1="575.7" y2="598.2" stroke="#333333" stroke-width="1.65"/>
<rect x="271.77" y="558.45" width="10.25" height="17.25" fill="#F8766D" stroke="#333333" stroke-width="1.65"/>
<line x1="271.77" x2="282.02" y1="568.9" y2="568.9" stroke="#333333" stroke-width="2.8"/>
<circle cx="276.9" cy="530.6" r="3.2" fill="#333333"/>
<circle cx="276.9" cy="644" r="3.2" fill="#333333"/>
<line x1="297.4" x2="297.4" y1="531.1" y2="559.05" stroke="#333333" stroke-width="1.65"/>
<line x1="297.4" x2="297.4" y1="596.4" y2="620.6" stroke="#333333" stroke-width="1.65"/>
<rect x="292.27" y="559.05" width="10.25" height="37.35" fill="#00BA38" stroke="#333333" stroke-width="1.65"/>
<line x1="292.27" x2="302.52" y1="573.3" y2="573.3" stroke="#333333" stroke-width="2.8"/>
<line x1="343.55" x2="343.55" y1="539.5" y2="564.15" stroke="#333333" stroke-width="1.65"/>
<line x1="343.55" x2="343.55" y1="595.8" y2="626.1" stroke="#333333" stroke-width="1.65"/>
<rect x="338.43" y="564.15" width="10.25" height="31.65" fill="#F8766D" stroke="#333333" stroke-width="1.65"/>
<line x1="338.43" x2="348.68" y1="575.8" y2="575.8" stroke="#333333" stroke-width="2.8"/>
<circle cx="343.55" cy="664.1" r="3.2" fill="#333333"/>
<line x1="364.05" x2="364.05" y1="531.1" y2="564.35" stroke="#333333" stroke-width="1.65"/>
<line x1="364.05" x2="364.05" y1="586.3" y2="610.6" stroke="#333333" stroke-width="1.65"/>
<rect x="358.93" y="564.35" width="10.25" height="21.95" fill="#00BA38" stroke="#333333" stroke-width="1.65"/>
<line x1="358.93" x2="369.18" y1="568.5" y2="568.5" stroke="#333333" stroke-width="2.8"/>
<circle cx="364.05" cy="516.7" r="3.2" fill="#333333"/>
<line x1="384.55" x2="384.55" y1="559.6" y2="577.05" stroke="#333333" stroke-width="1.65"/>
<line x1="384.55" x2="384.55" y1="603.4" y2="621.6" stroke="#333333" stroke-width="1.65"/>
<rect x="379.43" y="577.05" width="10.25" height="26.35" fill="#619CFF" stroke="#333333" stroke-width="1.65"/>
<line x1="379.43" x2="389.68" y1="591.4" y2="591.4" stroke="#333333" stroke-width="2.8"/>
</g>
<line x1="287.15" x2="287.15" y1="702" y2="705.6" stroke="#333333" stroke-width="1.25"/>
<text x="287.15" y="717.7" font-size="10.05" fill="#4D4D4D" stroke="#4D4D4D" text-anchor="middle">non<tspan dy="0.85">−</tspan><tspan dy="-0.85">CT</tspan><tspan dy="0.85">−</tspan><tspan dy="-0.85">targeted</tspan></text>
<line x1="364.05" x2="364.05" y1="702" y2="705.6" stroke="#333333" stroke-width="1.25"/>
<text x="364.05" y="717.7" font-size="10.05" fill="#4D4D4D" stroke="#4D4D4D" text-anchor="middle">CT<tspan dy="0.85">−</tspan><tspan dy="-0.85">targeted</tspan></text>
<rect x="418.1" y="483.8" width="169.1" height="218.2" fill="#EBEBEB"/>
<rect x="418.1" y="483.8" width="169.1" height="21.1" fill="#D9D9D9"/>
<text x="502.65" y="498.9" font-size="9.8" fill="#1A1A1A" stroke="#1A1A1A" text-anchor="middle">R S2</text>
<g>
<line x1="418.1" x2="587.2" y1="689.76" y2="689.76" stroke="#fff" stroke-width="0.75"/>
<line x1="418.1" x2="587.2" y1="650.64" y2="650.64" stroke="#fff" stroke-width="0.75"/>
<line x1="418.1" x2="587.2" y1="611.51" y2="611.51" stroke="#fff" stroke-width="0.75"/>
<line x1="418.1" x2="587.2" y1="572.39" y2="572.39" stroke="#fff" stroke-width="0.75"/>
<line x1="418.1" x2="587.2" y1="533.26" y2="533.26" stroke="#fff" stroke-width="0.75"/>
<line x1="418.1" x2="587.2" y1="670.2" y2="670.2" stroke="#fff" stroke-width="1.45"/>
<line x1="418.1" x2="587.2" y1="631.08" y2="631.08" stroke="#fff" stroke-width="1.45"/>
<line x1="418.1" x2="587.2" y1="591.95" y2="591.95" stroke="#fff" stroke-width="1.45"/>
<line x1="418.1" x2="587.2" y1="552.83" y2="552.83" stroke="#fff" stroke-width="1.45"/>
<line x1="418.1" x2="587.2" y1="513.7" y2="513.7" stroke="#fff" stroke-width="1.45"/>
<line x1="464.2" x2="464.2" y1="504.9" y2="702" stroke="#fff" stroke-width="1.45"/>
<line x1="541.1" x2="541.1" y1="504.9" y2="702" stroke="#fff" stroke-width="1.45"/>
<line x1="418.1" x2="587.2" y1="591.95" y2="591.95" stroke="#000" stroke-width="1.6"/>
<line x1="453.95" x2="453.95" y1="528.3" y2="548.35" stroke="#333333" stroke-width="1.65"/>
<line x1="453.95" x2="453.95" y1="569.1" y2="575.5" stroke="#333333" stroke-width="1.65"/>
<rect x="448.83" y="548.35" width="10.25" height="20.75" fill="#F8766D" stroke="#333333" stroke-width="1.65"/>
<line x1="448.83" x2="459.08" y1="560.4" y2="560.4" stroke="#333333" stroke-width="2.8"/>
<circle cx="453.95" cy="607.2" r="3.2" fill="#333333"/>
<line x1="474.45" x2="474.45" y1="534.4" y2="560.95" stroke="#333333" stroke-width="1.65"/>
<line x1="474.45" x2="474.45" y1="581.8" y2="605.8" stroke="#333333" stroke-width="1.65"/>
<rect x="469.33" y="560.95" width="10.25" height="20.85" fill="#00BA38" stroke="#333333" stroke-width="1.65"/>
<line x1="469.33" x2="479.58" y1="571.4" y2="571.4" stroke="#333333" stroke-width="2.8"/>
<line x1="520.6" x2="520.6" y1="537.2" y2="559.95" stroke="#333333" stroke-width="1.65"/>
<line x1="520.6" x2="520.6" y1="574.8" y2="597.3" stroke="#333333" stroke-width="1.65"/>
<rect x="515.48" y="559.95" width="10.25" height="14.85" fill="#F8766D" stroke="#333333" stroke-width="1.65"/>
<line x1="515.48" x2="525.73" y1="569.3" y2="569.3" stroke="#333333" stroke-width="2.8"/>
<circle cx="520.6" cy="606.4" r="3.2" fill="#333333"/>
<circle cx="520.6" cy="656.1" r="3.2" fill="#333333"/>
<line x1="541.1" x2="541.1" y1="521.1" y2="542.65" stroke="#333333" stroke-width="1.65"/>
<line x1="541.1" x2="541.1" y1="582.4" y2="605.8" stroke="#333333" stroke-width="1.65"/>
<rect x="535.98" y="542.65" width="10.25" height="39.75" fill="#00BA38" stroke="#333333" stroke-width="1.65"/>
<line x1="535.98" x2="546.23" y1="562.7" y2="562.7" stroke="#333333" stroke-width="2.8"/>
<line x1="561.6" x2="561.6" y1="544.8" y2="569.85" stroke="#333333" stroke-width="1.65"/>
<line x1="561.6" x2="561.6" y1="594.3" y2="611.5" stroke="#333333" stroke-width="1.65"/>
<rect x="556.48" y="569.85" width="10.25" height="24.45" fill="#619CFF" stroke="#333333" stroke-width="1.65"/>
<line x1="556.48" x2="566.73" y1="585.6" y2="585.6" stroke="#333333" stroke-width="2.8"/>
</g>
<line x1="464.2" x2="464.2" y1="702" y2="705.6" stroke="#333333" stroke-width="1.25"/>
<text x="464.2" y="717.7" font-size="10.05" fill="#4D4D4D" stroke="#4D4D4D" text-anchor="middle">non<tspan dy="0.85">−</tspan><tspan dy="-0.85">CT</tspan><tspan dy="0.85">−</tspan><tspan dy="-0.85">targeted</tspan></text>
<line x1="541.1" x2="541.1" y1="702" y2="705.6" stroke="#333333" stroke-width="1.25"/>
<text x="541.1" y="717.7" font-size="10.05" fill="#4D4D4D" stroke="#4D4D4D" text-anchor="middle">CT<tspan dy="0.85">−</tspan><tspan dy="-0.85">targeted</tspan></text>
<text x="321.05" y="732.6" font-size="11.5" fill="#000" stroke="#000" text-anchor="middle">Stimulation type</text>
<g transform="translate(14.9 369.2) rotate(-90) scale(1 1.04)"><text x="0" y="0" font-size="11.5" fill="#000" stroke="#000" text-anchor="middle">Response estimate</text></g>
<g transform="translate(27.7 367.7) rotate(-90) scale(1 1.04)"><text x="0" y="0" font-size="11.5" fill="#000" stroke="#000" text-anchor="middle">(principal eigenvariate)</text></g>
<text x="601.3" y="326.8" font-size="11.5" fill="#000" stroke="#000">Stimulation site</text>
<rect x="601" y="333.2" width="24.9" height="74.25" fill="#F2F2F2"/>
<line x1="613.45" x2="613.45" y1="335.18" y2="339.39" stroke="#333333" stroke-width="1.65"/>
<line x1="613.45" x2="613.45" y1="352.13" y2="355.97" stroke="#333333" stroke-width="1.65"/>
<rect x="604.11" y="339.39" width="18.68" height="12.75" fill="#F8766D" stroke="#333333" stroke-width="1.65"/>
<line x1="604.11" x2="622.79" y1="345.77" y2="345.77" stroke="#333333" stroke-width="1.75"/>
<text x="632.9" y="350" font-size="9.85" fill="#000" stroke="#000">Forearm</text>
<line x1="613.45" x2="613.45" y1="359.93" y2="364.14" stroke="#333333" stroke-width="1.65"/>
<line x1="613.45" x2="613.45" y1="376.88" y2="380.72" stroke="#333333" stroke-width="1.65"/>
<rect x="604.11" y="364.14" width="18.68" height="12.75" fill="#00BA38" stroke="#333333" stroke-width="1.65"/>
<line x1="604.11" x2="622.79" y1="370.52" y2="370.52" stroke="#333333" stroke-width="1.75"/>
<text x="632.9" y="374.7" font-size="9.85" fill="#000" stroke="#000">Penile shaft</text>
<line x1="613.45" x2="613.45" y1="384.68" y2="388.89" stroke="#333333" stroke-width="1.65"/>
<line x1="613.45" x2="613.45" y1="401.63" y2="405.47" stroke="#333333" stroke-width="1.65"/>
<rect x="604.11" y="388.89" width="18.68" height="12.75" fill="#619CFF" stroke="#333333" stroke-width="1.65"/>
<line x1="604.11" x2="622.79" y1="395.27" y2="395.27" stroke="#333333" stroke-width="1.75"/>
<text x="632.9" y="399.4" font-size="9.85" fill="#000" stroke="#000">Frenulum</text>
</svg>
</body></html>
